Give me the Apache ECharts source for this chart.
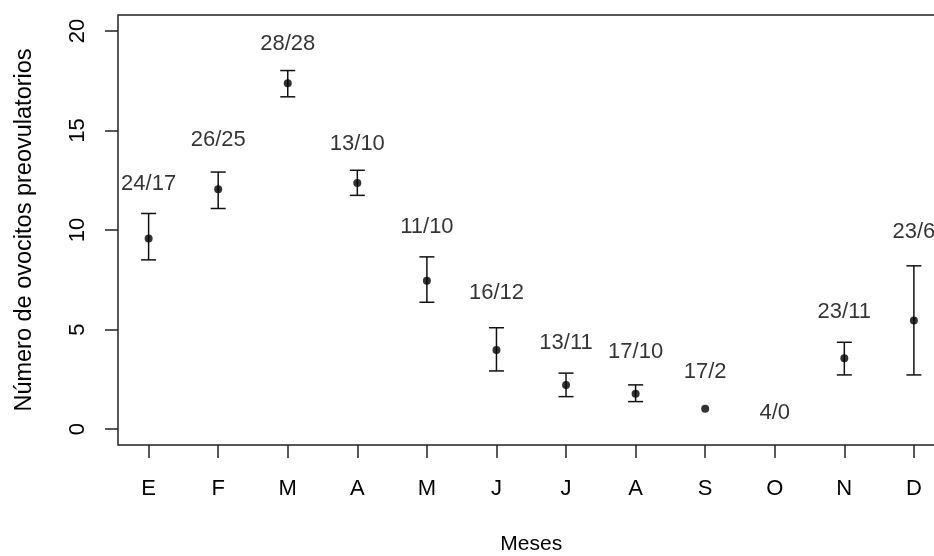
<!DOCTYPE html>
<html>
<head>
<meta charset="utf-8">
<script src="https://cdn.jsdelivr.net/npm/echarts@6/dist/echarts.min.js"></script>
<style>html,body{margin:0;padding:0;background:#fff;}#c{width:934px;height:556px;}</style>
</head>
<body>
<div id="c"></div>
<script>
const months = ['E','F','M','A','M','J','J','A','S','O','N','D'];
const means = [9.57, 12.05, 17.37, 12.36, 7.45, 3.97, 2.22, 1.77, 1.02, null, 3.56, 5.46];
const lower = [8.50, 11.08, 16.69, 11.74, 6.37, 2.92, 1.63, 1.38, null, null, 2.72, 2.72];
const upper = [10.83, 12.91, 18.01, 13.00, 8.65, 5.09, 2.81, 2.22, null, null, 4.36, 8.20];
const sampleLabels = ['24/17','26/25','28/28','13/10','11/10','16/12','13/11','17/10','17/2','4/0','23/11','23/6'];
const labelY = [12.33, 14.54, 19.35, 14.34, 10.16, 6.85, 4.34, 3.89, 2.89, 0.83, 5.86, 9.90];
const yTicks = [0, 5, 10, 15, 20];
const xTicks = months.map((m, i) => i + 1);

const FONT = 'Liberation Sans, Arial, Helvetica, sans-serif';
const INK = '#000';

const chart = echarts.init(document.getElementById('c'), null, {renderer: 'canvas'});

const pointData = means.map((v, i) => v == null ? null : [i + 1, v]).filter(d => d);
const barData = lower.map((l, i) => l == null ? null : [i + 1, l, upper[i]]).filter(d => d);
const textData = sampleLabels.map((t, i) => [i + 1, labelY[i], t]);

chart.setOption({
  animation: false,
  backgroundColor: '#fff',
  grid: {
    left: 118, top: 15, width: 826.5, height: 430,
    show: true, borderColor: '#222', borderWidth: 1.5, backgroundColor: 'transparent',
    containLabel: false, outerBoundsMode: 'none'
  },
  xAxis: {
    type: 'value', min: 0.56, max: 12.44,
    name: 'Meses', nameLocation: 'middle', nameGap: 89,
    nameTextStyle: {fontFamily: FONT, fontSize: 21, color: INK},
    axisLine: {show: false, onZero: false},
    splitLine: {show: false},
    axisTick: {show: true, customValues: xTicks, length: 13, inside: false, lineStyle: {color: '#222', width: 1.5}},
    axisLabel: {customValues: xTicks, margin: 33, fontFamily: FONT, fontSize: 22, color: INK,
      formatter: v => months[Math.round(v) - 1] || ''}
  },
  yAxis: {
    type: 'value', min: -0.8, max: 20.8,
    name: 'Número de ovocitos preovulatorios', nameLocation: 'middle', nameGap: 81, nameRotate: 90,
    nameTextStyle: {fontFamily: FONT, fontSize: 23.5, color: INK},
    axisLine: {show: false, onZero: false},
    splitLine: {show: false},
    axisTick: {show: true, customValues: yTicks, length: 13, inside: false, lineStyle: {color: '#222', width: 1.5}},
    axisLabel: {customValues: yTicks, rotate: 90, margin: 29, fontFamily: FONT, fontSize: 22, color: INK}
  },
  series: [
    {
      type: 'custom',
      data: barData,
      encode: {x: 0, y: [1, 2]},
      z: 2,
      renderItem: function (params, api) {
        const x = api.value(0);
        const lo = api.coord([x, api.value(1)]);
        const hi = api.coord([x, api.value(2)]);
        const hw = 7.5;
        const style = {stroke: '#111', lineWidth: 1.5, fill: null};
        return {
          type: 'group',
          children: [
            {type: 'line', shape: {x1: lo[0], y1: lo[1], x2: hi[0], y2: hi[1]}, style: style},
            {type: 'line', shape: {x1: lo[0] - hw, y1: lo[1], x2: lo[0] + hw, y2: lo[1]}, style: style},
            {type: 'line', shape: {x1: hi[0] - hw, y1: hi[1], x2: hi[0] + hw, y2: hi[1]}, style: style}
          ]
        };
      }
    },
    {
      type: 'scatter',
      data: pointData,
      symbol: 'circle',
      symbolSize: 8,
      z: 3,
      itemStyle: {color: '#000'}
    },
    {
      type: 'scatter',
      data: textData,
      symbolSize: 0,
      z: 4,
      label: {
        show: true, position: 'inside', fontFamily: FONT, fontSize: 22, color: INK,
        formatter: p => p.value[2]
      }
    }
  ]
});
</script>
</body>
</html>
